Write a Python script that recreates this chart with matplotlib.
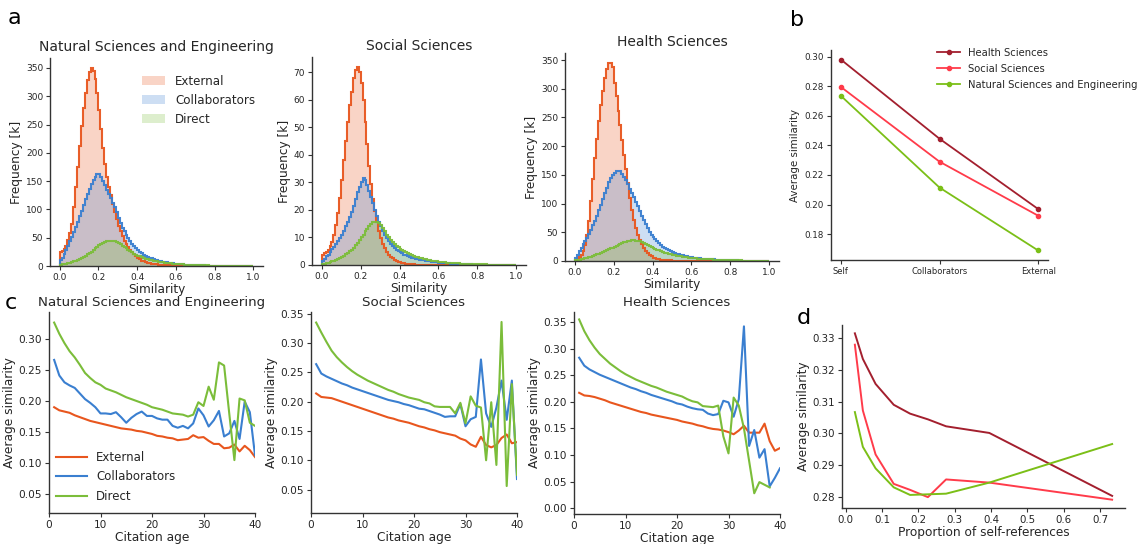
import numpy as np
import matplotlib
matplotlib.use("Agg")
import matplotlib.pyplot as plt

# ---------------- data ----------------
BIN_WIDTH = 0.01
N_BINS = 100

# panel a: histogram heights (thousands) per 0.01 similarity bin
nse_ext = [25, 27, 30, 36, 46, 58, 75, 105, 140, 175,
           212, 248, 280, 305, 328, 343, 350, 345, 330, 305,
           275, 242, 208, 180, 158, 140, 125, 110, 96, 83,
           70, 61, 53, 45, 39, 33, 28, 24, 20.5, 17,
           14, 11.5, 9.5, 8, 6.8, 5.8, 5, 4.3, 3.8, 3.4,
           3.0, 2.6, 2.3, 2.0, 1.75, 1.5, 1.3, 1.1, 0.95, 0.8,
           0.7, 0.6, 0.5, 0.43, 0.37, 0.32, 0.27, 0.23, 0.2, 0.17,
           0.14, 0.12, 0.1, 0.085, 0.07, 0.06, 0.05, 0.04, 0.035, 0.03,
           0.025, 0.02, 0.017, 0.014, 0.012, 0.01, 0.008, 0.006, 0.005, 0.004,
           0.003, 0.003, 0.002, 0.002, 0.002, 0.001, 0.001, 0.001, 0.001, 0.0]
nse_col = [11, 15, 21, 28, 36, 44, 52, 60, 69, 78,
           88, 98, 108, 118, 127, 136, 144, 152, 158, 162,
           163, 158, 150, 143, 135, 127, 120, 112, 104, 96,
           84, 76, 68, 61, 55, 49, 44, 39, 35, 31,
           28, 25, 22.5, 20, 18, 16.5, 15, 13.5, 12.3, 11.2,
           10.2, 9.3, 8.4, 7.6, 6.9, 6.2, 5.6, 5.0, 4.5, 4.0,
           3.6, 3.3, 3.0, 2.7, 2.5, 2.3, 2.1, 1.9, 1.7, 1.5,
           1.35, 1.2, 1.1, 1.0, 0.9, 0.8, 0.72, 0.65, 0.58, 0.52,
           0.46, 0.41, 0.36, 0.32, 0.28, 0.25, 0.22, 0.19, 0.16, 0.14,
           0.12, 0.1, 0.09, 0.08, 0.07, 0.06, 0.05, 0.04, 0.03, 0.02]
nse_dir = [2.4, 3, 3.6, 4.3, 5.1, 6, 7, 8, 9.3, 10.6,
           12, 14, 16, 18, 20.5, 23, 25.5, 28, 31, 34,
           37, 39.5, 41.5, 43, 44, 44.8, 45, 44.5, 43.5, 42,
           40.5, 38.5, 36, 33.5, 31, 28.5, 26, 24, 22, 20,
           18.5, 17, 15.5, 14.2, 13, 12, 11, 10.2, 9.4, 8.7,
           8, 7.4, 6.8, 6.3, 5.8, 5.3, 4.9, 4.5, 4.1, 3.8,
           3.5, 3.2, 3.0, 2.8, 2.6, 2.4, 2.2, 2.0, 1.85, 1.7,
           1.55, 1.45, 1.35, 1.25, 1.15, 1.05, 0.95, 0.87, 0.8, 0.73,
           0.66, 0.6, 0.54, 0.49, 0.44, 0.4, 0.36, 0.32, 0.28, 0.25,
           0.22, 0.19, 0.17, 0.15, 0.13, 0.11, 0.09, 0.07, 0.05, 0.04]

ss_ext = [3.7, 4.2, 4.8, 5.6, 6.8, 8.5, 11, 14.5, 19, 24.5,
          31, 38, 45, 52, 58, 63, 68, 71, 72, 70,
          66, 60, 52, 44, 36, 29.5, 24, 19.5, 15.5, 12.3,
          9.7, 7.6, 6, 4.7, 3.7, 3, 2.4, 1.9, 1.55, 1.25,
          1.0, 0.8, 0.63, 0.5, 0.4, 0.32, 0.26, 0.21, 0.17, 0.14,
          0.11, 0.09, 0.07, 0.06, 0.05, 0.04, 0.03, 0.025, 0.02, 0.015,
          0.012, 0.01, 0.008, 0.006, 0.005, 0.004, 0.003, 0.002, 0.002, 0.001,
          0.001, 0.001, 0.001, 0.001, 0, 0, 0, 0, 0, 0,
          0, 0, 0, 0, 0, 0, 0, 0, 0, 0,
          0, 0, 0, 0, 0, 0, 0, 0, 0, 0]
ss_col = [1.4, 2.3, 3.1, 3.8, 4.8, 5.7, 6.7, 7.7, 8.7, 9.8,
          11, 12.5, 14, 15.6, 17.3, 19.3, 21.5, 24, 26.5, 28.5,
          30.3, 31.5, 31, 29, 27, 24.8, 22.5, 20, 17.8, 15.8,
          14, 12.4, 11, 9.7, 8.6, 7.7, 6.9, 6.2, 5.6, 5.1,
          4.6, 4.2, 3.8, 3.5, 3.2, 2.95, 2.7, 2.5, 2.3, 2.1,
          1.95, 1.8, 1.65, 1.52, 1.4, 1.3, 1.2, 1.1, 1.02, 0.95,
          0.88, 0.8, 0.74, 0.68, 0.62, 0.57, 0.52, 0.48, 0.44, 0.4,
          0.36, 0.33, 0.3, 0.27, 0.25, 0.22, 0.2, 0.18, 0.16, 0.15,
          0.13, 0.12, 0.11, 0.1, 0.09, 0.08, 0.07, 0.06, 0.05, 0.045,
          0.04, 0.035, 0.03, 0.025, 0.02, 0.02, 0.015, 0.01, 0.01, 0.005]
ss_dir = [0.3, 0.5, 0.7, 0.9, 1.1, 1.3, 1.6, 1.9, 2.2, 2.6,
          3.0, 3.4, 3.9, 4.4, 5.0, 5.6, 6.3, 7.1, 8.0, 9.0,
          10, 11, 12.2, 13.2, 14.2, 15, 15.5, 15.8, 15.8, 15.3,
          14.5, 13.5, 12.3, 11, 10, 9.1, 8.3, 7.6, 7, 6.4,
          5.9, 5.4, 5, 4.6, 4.2, 3.9, 3.6, 3.3, 3.05, 2.8,
          2.6, 2.4, 2.2, 2.05, 1.9, 1.75, 1.62, 1.5, 1.4, 1.3,
          1.2, 1.12, 1.04, 0.97, 0.9, 0.84, 0.78, 0.72, 0.67, 0.62,
          0.58, 0.54, 0.5, 0.46, 0.43, 0.4, 0.37, 0.34, 0.32, 0.3,
          0.27, 0.25, 0.23, 0.21, 0.19, 0.17, 0.15, 0.14, 0.12, 0.11,
          0.1, 0.09, 0.08, 0.07, 0.06, 0.05, 0.04, 0.03, 0.02, 0.01]

hs_ext = [1.7, 4.7, 7, 10.5, 17, 28, 45, 70, 105, 142,
          180, 213, 244, 272, 296, 318, 335, 345, 344, 337,
          310, 288, 262, 236, 210, 185, 160, 135, 110, 88,
          71, 57, 46, 37, 29, 22, 17, 13.5, 10.5, 8,
          6, 4.8, 3.9, 3.2, 2.6, 2.1, 1.7, 1.4, 1.1, 0.9,
          0.7, 0.55, 0.42, 0.33, 0.26, 0.2, 0.16, 0.12, 0.09, 0.07,
          0.055, 0.045, 0.035, 0.027, 0.021, 0.016, 0.012, 0.01, 0.008, 0.006,
          0.005, 0.004, 0.003, 0.002, 0.002, 0.001, 0.001, 0.001, 0.001, 0.001,
          0, 0, 0, 0, 0, 0, 0, 0, 0, 0,
          0, 0, 0, 0, 0, 0, 0, 0, 0, 0]
hs_col = [6, 11, 17, 23, 29, 35, 40, 47, 54, 62,
          70, 78, 88, 98, 108, 118, 128, 137, 145, 150,
          154, 156, 157.5, 156, 152, 147, 141, 134, 126, 119,
          111, 103, 95, 87, 79, 71, 64, 57, 51, 46,
          42, 38, 34, 31, 28, 25, 22.5, 20.5, 18.5, 16.8,
          15.3, 14, 12.8, 11.7, 10.7, 9.8, 9, 8.3, 7.6, 7,
          6.4, 5.9, 5.4, 5, 4.6, 4.3, 4.0, 3.7, 3.4, 3.2,
          3.0, 2.8, 2.6, 2.4, 2.2, 2.0, 1.85, 1.7, 1.55, 1.4,
          1.25, 1.12, 1.0, 0.9, 0.8, 0.7, 0.62, 0.55, 0.48, 0.42,
          0.36, 0.31, 0.27, 0.23, 0.19, 0.16, 0.13, 0.1, 0.07, 0.05]
hs_dir = [1.2, 1.8, 2.5, 3.2, 4.0, 4.8, 5.7, 6.7, 7.8, 9,
          10.2, 11.5, 13, 14.5, 16, 17.5, 19, 20.5, 22, 23.5,
          25, 26.5, 28, 29.5, 31, 32.5, 33.8, 34.8, 35.5, 36,
          36, 35.7, 35, 34, 32.8, 31.3, 29.8, 28.2, 26.5, 24.8,
          23.2, 21.6, 20, 18.5, 17.1, 15.8, 14.6, 13.5, 12.5, 11.6,
          10.8, 10, 9.3, 8.6, 8, 7.4, 6.9, 6.4, 5.9, 5.5,
          5.1, 4.8, 4.5, 4.2, 3.9, 3.7, 3.5, 3.3, 3.1, 2.9,
          2.7, 2.5, 2.35, 2.2, 2.05, 1.9, 1.8, 1.7, 1.6, 1.5,
          1.4, 1.3, 1.2, 1.1, 1.0, 0.9, 0.8, 0.7, 0.6, 0.5,
          0.45, 0.4, 0.35, 0.3, 0.25, 0.2, 0.16, 0.12, 0.08, 0.05]

fields = ["Natural Sciences and Engineering", "Social Sciences", "Health Sciences"]
hist_labels = ["External", "Collaborators", "Direct"]

# panel b
b_categories = ["Self", "Collaborators", "External"]
b_health = [0.298, 0.2445, 0.197]
b_social = [0.2795, 0.229, 0.1925]
b_nse = [0.2735, 0.2115, 0.169]

# panel c: average similarity by citation age
ages = list(range(1, 41))
c_nse_ext = [0.190, 0.185, 0.183, 0.181, 0.177, 0.174, 0.171, 0.168, 0.166, 0.164,
             0.162, 0.160, 0.158, 0.156, 0.155, 0.154, 0.152, 0.151, 0.149, 0.147,
             0.144, 0.143, 0.141, 0.140, 0.137, 0.138, 0.139, 0.145, 0.141, 0.142,
             0.136, 0.131, 0.131, 0.124, 0.125, 0.130, 0.119, 0.128, 0.121, 0.110]
c_nse_col = [0.266, 0.241, 0.230, 0.225, 0.221, 0.212, 0.203, 0.197, 0.190, 0.180,
             0.180, 0.179, 0.182, 0.174, 0.165, 0.173, 0.179, 0.183, 0.176, 0.176,
             0.172, 0.170, 0.170, 0.160, 0.157, 0.160, 0.156, 0.164, 0.188, 0.177,
             0.159, 0.169, 0.184, 0.143, 0.148, 0.168, 0.139, 0.199, 0.182, 0.113]
c_nse_dir = [0.326, 0.308, 0.293, 0.280, 0.270, 0.258, 0.245, 0.237, 0.230, 0.226,
             0.220, 0.217, 0.214, 0.210, 0.206, 0.203, 0.200, 0.197, 0.194, 0.190,
             0.188, 0.186, 0.183, 0.180, 0.179, 0.178, 0.175, 0.178, 0.198, 0.192,
             0.223, 0.202, 0.262, 0.257, 0.180, 0.105, 0.204, 0.201, 0.165, 0.160]

c_ss_ext = [0.214, 0.208, 0.207, 0.206, 0.203, 0.200, 0.197, 0.194, 0.191, 0.188,
            0.185, 0.182, 0.179, 0.176, 0.173, 0.171, 0.168, 0.166, 0.164, 0.161,
            0.158, 0.156, 0.153, 0.151, 0.148, 0.146, 0.144, 0.142, 0.137, 0.134,
            0.127, 0.123, 0.140, 0.126, 0.122, 0.126, 0.138, 0.144, 0.129, 0.131]
c_ss_col = [0.264, 0.248, 0.243, 0.239, 0.235, 0.231, 0.228, 0.224, 0.221, 0.218,
            0.215, 0.212, 0.209, 0.206, 0.203, 0.201, 0.199, 0.196, 0.194, 0.191,
            0.188, 0.187, 0.184, 0.181, 0.178, 0.174, 0.175, 0.175, 0.196, 0.158,
            0.170, 0.174, 0.272, 0.180, 0.157, 0.190, 0.236, 0.169, 0.236, 0.068]
c_ss_dir = [0.335, 0.318, 0.302, 0.287, 0.276, 0.267, 0.259, 0.252, 0.246, 0.241,
            0.236, 0.232, 0.228, 0.224, 0.220, 0.217, 0.213, 0.210, 0.207, 0.205,
            0.203, 0.199, 0.197, 0.192, 0.191, 0.191, 0.191, 0.180, 0.198, 0.163,
            0.209, 0.193, 0.190, 0.100, 0.199, 0.092, 0.336, 0.056, 0.230, 0.075]

c_hs_ext = [0.217, 0.212, 0.211, 0.209, 0.206, 0.203, 0.199, 0.196, 0.193, 0.190,
            0.187, 0.184, 0.181, 0.179, 0.176, 0.174, 0.172, 0.170, 0.168, 0.166,
            0.163, 0.161, 0.159, 0.156, 0.154, 0.151, 0.149, 0.148, 0.146, 0.143,
            0.139, 0.146, 0.155, 0.142, 0.142, 0.142, 0.159, 0.126, 0.108, 0.113]
c_hs_col = [0.283, 0.268, 0.261, 0.256, 0.251, 0.247, 0.243, 0.239, 0.235, 0.231,
            0.227, 0.224, 0.220, 0.217, 0.213, 0.210, 0.207, 0.204, 0.201, 0.197,
            0.195, 0.191, 0.188, 0.186, 0.185, 0.178, 0.175, 0.177, 0.202, 0.199,
            0.172, 0.205, 0.342, 0.117, 0.147, 0.095, 0.111, 0.041, 0.057, 0.075]
c_hs_dir = [0.355, 0.333, 0.316, 0.302, 0.290, 0.281, 0.272, 0.265, 0.258, 0.252,
            0.247, 0.242, 0.238, 0.234, 0.230, 0.227, 0.223, 0.219, 0.216, 0.213,
            0.210, 0.205, 0.201, 0.199, 0.192, 0.191, 0.190, 0.193, 0.135, 0.103,
            0.208, 0.193, 0.150, 0.089, 0.028, 0.049, 0.044, 0.039]

# panel d
d_prop = [0.025, 0.047, 0.082, 0.132, 0.177, 0.226, 0.276, 0.395, 0.733]
d_health = [0.3316, 0.3235, 0.3156, 0.3090, 0.3062, 0.3044, 0.3022, 0.3001, 0.2802]
d_social = [0.3280, 0.3072, 0.2933, 0.2840, 0.2821, 0.2798, 0.2854, 0.2844, 0.2790]
d_nse = [0.3067, 0.2957, 0.2889, 0.2829, 0.2805, 0.2807, 0.2809, 0.2844, 0.2966]

# ---------------- style ----------------
plt.rcParams['font.family'] = ['DejaVu Sans']
TXT = '#262626'
SP = '#333333'
C_EXT, C_COL, C_DIR = '#e8561e', '#3a7fd0', '#7bbd3a'
C_HS, C_SS, C_NSE = '#a31f2e', '#ff3b4a', '#7bbf17'

W, H = 1146, 544
fig = plt.figure(figsize=(W / 100, H / 100), dpi=100)


def rect(l, t, r, b):
    return [l / W, (H - b) / H, (r - l) / W, (b - t) / H]


def style(ax, ts):
    for s in ['top', 'right']:
        ax.spines[s].set_visible(False)
    for s in ['left', 'bottom']:
        ax.spines[s].set_color(SP)
        ax.spines[s].set_linewidth(1.0)
    ax.tick_params(labelsize=ts, length=3, width=0.8, color=SP, labelcolor=TXT, pad=2)


# ---------------- panel a ----------------
edges = np.linspace(0, BIN_WIDTH * N_BINS, N_BINS + 1)
a_rects = [(50, 58, 263, 266), (312, 57, 526, 265), (565, 53, 779, 261)]
a_data = [(nse_ext, nse_col, nse_dir), (ss_ext, ss_col, ss_dir), (hs_ext, hs_col, hs_dir)]
a_yticks = [np.arange(0, 351, 50), np.arange(0, 71, 10), np.arange(0, 351, 50)]
for i in range(3):
    ax = fig.add_axes(rect(*a_rects[i]))
    style(ax, 6.5)
    series = a_data[i]
    cols = [C_EXT, C_COL, C_DIR]
    for vals, c, lab in zip(series, cols, hist_labels):
        ax.stairs(vals, edges, fill=True, color=c, alpha=0.25, lw=0, label=lab)
    for vals, c in zip(series, cols):
        ax.stairs(vals, edges, color=c, lw=1.5, alpha=0.95)
    ymax = max(max(s) for s in series)
    ax.set_ylim(0, ymax * 1.05)
    ax.set_xlim(-0.05, 1.05)
    ax.set_xticks(np.arange(0, 1.01, 0.2))
    ax.set_yticks(a_yticks[i])
    ax.set_title(fields[i], fontsize=10, color=TXT, pad=5)
    ax.set_xlabel("Similarity", fontsize=8.7, color=TXT, labelpad=1)
    ax.set_ylabel("Frequency [k]", fontsize=8.7, color=TXT, labelpad=2)
    if i == 0:
        ax.legend(loc='upper left', bbox_to_anchor=(0.43, 0.92), frameon=False,
                  fontsize=8.6, borderpad=0, borderaxespad=0, labelcolor=TXT)

# ---------------- panel b ----------------
ax = fig.add_axes(rect(831, 50, 1048, 260))
style(ax, 6.3)
xb = np.arange(len(b_categories))
ax.plot(xb, b_health, color=C_HS, marker='o', ms=3, lw=1.3, label="Health Sciences")
ax.plot(xb, b_social, color=C_SS, marker='o', ms=3, lw=1.3, label="Social Sciences")
ax.plot(xb, b_nse, color=C_NSE, marker='o', ms=3, lw=1.3, label="Natural Sciences and Engineering")
ax.set_xticks(xb)
ax.set_xticklabels(b_categories, fontsize=6)
ax.set_yticks(np.arange(0.18, 0.301, 0.02))
ax.set_ylabel("Average similarity", fontsize=7.4, color=TXT, labelpad=3)
ax.legend(loc='upper left', bbox_to_anchor=(0.49, 1.01), frameon=False, fontsize=7.2,
          borderpad=0, borderaxespad=0, handlelength=2.3, labelspacing=0.6, labelcolor=TXT)

# ---------------- panel c ----------------
c_rects = [(49, 312, 255, 513), (311, 312, 517, 513), (574, 312, 780, 514)]
c_data = [(c_nse_ext, c_nse_col, c_nse_dir), (c_ss_ext, c_ss_col, c_ss_dir),
          (c_hs_ext, c_hs_col, c_hs_dir)]
c_ylims = [(0.02, 0.343), (0.01, 0.353), (-0.011, 0.369)]
c_yticks = [np.arange(0.05, 0.301, 0.05), np.arange(0.05, 0.351, 0.05), np.arange(0.0, 0.351, 0.05)]
for i in range(3):
    ax = fig.add_axes(rect(*c_rects[i]))
    style(ax, 7.6)
    for vals, c, lab in zip(c_data[i], [C_EXT, C_COL, C_DIR], hist_labels):
        ax.plot(ages[:len(vals)], vals, color=c, lw=1.5, label=lab)
    ax.set_xlim(0, 40)
    ax.set_ylim(*c_ylims[i])
    ax.set_xticks([0, 10, 20, 30, 40])
    ax.set_yticks(c_yticks[i])
    ax.set_title(fields[i], fontsize=9.6, color=TXT, pad=4)
    ax.set_xlabel("Citation age", fontsize=8.8, color=TXT, labelpad=1)
    ax.set_ylabel("Average similarity", fontsize=8.8, color=TXT, labelpad=2)
    if i == 0:
        ax.legend(loc='lower left', bbox_to_anchor=(0.035, 0.05), frameon=False, fontsize=8.5,
                  borderpad=0, borderaxespad=0, handlelength=2.6, labelspacing=0.55,
                  labelcolor=TXT)

# ---------------- panel d ----------------
ax = fig.add_axes(rect(842, 325, 1125, 508))
style(ax, 7.4)
ax.plot(d_prop, d_health, color=C_HS, lw=1.4)
ax.plot(d_prop, d_social, color=C_SS, lw=1.4)
ax.plot(d_prop, d_nse, color=C_NSE, lw=1.4)
ax.set_xticks(np.arange(0, 0.71, 0.1))
ax.set_yticks(np.arange(0.28, 0.331, 0.01))
ax.set_xlabel("Proportion of self-references", fontsize=8.7, color=TXT, labelpad=1)
ax.set_ylabel("Average similarity", fontsize=8.7, color=TXT, labelpad=2)

# ---------------- panel letters ----------------
for lab, x, y in [("a", 8, 24), ("b", 790, 26), ("c", 5, 309), ("d", 797, 324)]:
    fig.text(x / W, 1 - y / H, lab, fontsize=16, color='black', ha='left', va='baseline')

fig.savefig("out.png", dpi=100)
